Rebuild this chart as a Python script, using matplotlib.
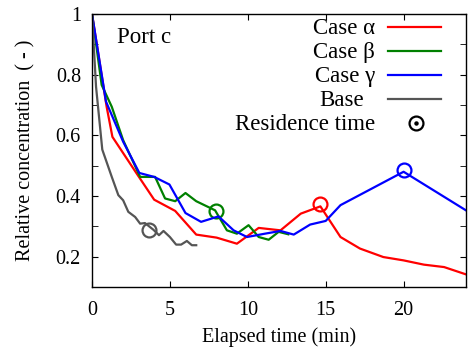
import matplotlib
matplotlib.use("Agg")
from matplotlib import pyplot as plt
from matplotlib.ticker import MultipleLocator, FuncFormatter

# Case alpha
t_alpha = [0, 0.94, 1.31, 2.87, 3.99, 5.34, 6.69, 8.0, 9.3, 10.7, 12.1, 13.4, 14.66,
           15.95, 17.2, 18.7, 20.0, 21.3, 22.6, 24.0]
c_alpha = [1.0, 0.694, 0.595, 0.474, 0.388, 0.351, 0.273, 0.263, 0.243, 0.295, 0.287,
           0.342, 0.366, 0.265, 0.227, 0.199, 0.188, 0.174, 0.166, 0.142]
# Case beta
t_beta = [0, 0.62, 1.27, 2.0, 3.09, 4.05, 4.69, 5.34, 6.0, 6.69, 7.9, 8.66, 9.3,
          10.05, 10.7, 11.34, 11.98, 12.6]
c_beta = [1.0, 0.766, 0.694, 0.584, 0.463, 0.463, 0.392, 0.383, 0.41, 0.383, 0.353,
          0.287, 0.276, 0.304, 0.265, 0.256, 0.282, 0.274]
# Case gamma
t_gamma = [0, 0.9, 2.0, 3.04, 3.99, 4.97, 6.0, 7.0, 8.12, 9.09, 9.95, 11.1, 12.1,
           12.95, 14.0, 15.0, 15.95, 20.0, 24.0]
c_gamma = [1.0, 0.711, 0.579, 0.476, 0.463, 0.438, 0.344, 0.315, 0.333, 0.287, 0.265,
           0.276, 0.285, 0.273, 0.306, 0.318, 0.37, 0.48, 0.353]
# Base
t_base = [0, 0.26, 0.66, 1.27, 1.69, 2.0, 2.33, 2.77, 3.09, 3.4, 3.94, 4.3, 4.59,
          5.0, 5.4, 5.72, 6.09, 6.41, 6.69]
c_base = [1.0, 0.76, 0.553, 0.463, 0.403, 0.386, 0.348, 0.331, 0.309, 0.311, 0.289,
          0.271, 0.285, 0.265, 0.24, 0.24, 0.252, 0.238, 0.238]

# residence time markers
res_t = [14.66, 7.97, 20.0, 3.69]
res_c = [0.373, 0.351, 0.487, 0.289]

labels = ["Case \u03b1", "Case \u03b2", "Case \u03b3", "Base"]
colors = ["#ff0000", "#008000", "#0000ff", "#555555"]

plt.rcParams['font.family'] = ['Liberation Serif', 'DejaVu Serif']

fig = plt.figure(figsize=(4.73, 3.48), dpi=100)
ax = fig.add_axes([0.1945, 0.175, 0.7905, 0.785])

series = [(t_alpha, c_alpha), (t_beta, c_beta), (t_gamma, c_gamma), (t_base, c_base)]
for (t, c), col, rt, rc in zip(series, colors, res_t, res_c):
    ax.plot(t, c, color=col, lw=1.6)
    ax.plot(rt, rc, marker='o', ms=10, mfc='none', mec=col, mew=1.6)

# gnuplot style key: right-justified labels, sample to the right
fs = 16.5
row_y = [0.952, 0.864, 0.777, 0.689, 0.601]
base_off = 0.027   # baseline sits a bit below the sample line
txt_x = [0.757, 0.757, 0.757, 0.727]
for lab, col, y, tx in zip(labels, colors, row_y, txt_x):
    ax.text(tx, y - base_off, lab, transform=ax.transAxes, ha='right', va='baseline', fontsize=fs)
    ax.plot([0.7914, 0.9332], [y, y], transform=ax.transAxes, color=col, lw=1.6)
ax.text(0.757, row_y[4] - base_off, "Residence time", transform=ax.transAxes,
        ha='right', va='baseline', fontsize=fs)
ax.plot([0.866], [row_y[4]], transform=ax.transAxes, marker='o', ms=10, mfc='none',
        mec='black', mew=1.6)
ax.plot([0.866], [row_y[4]], transform=ax.transAxes, marker='o', ms=2.2, color='black')

ax.text(0.068, 0.894, "Port c", transform=ax.transAxes, fontsize=fs, va='baseline')

ax.set_xlim(0, 24)
ax.set_ylim(0.1, 1.0)
ax.xaxis.set_major_locator(MultipleLocator(5))
ax.yaxis.set_major_locator(MultipleLocator(0.2))
ax.yaxis.set_minor_locator(MultipleLocator(0.1))
ax.yaxis.set_major_formatter(FuncFormatter(lambda v, p: "1" if abs(v - 1) < 1e-6 else "%.1f" % v))
ax.tick_params(which='both', direction='in', top=True, right=True, length=4, labelsize=14.5)
ax.tick_params(axis='x', pad=10)
ax.tick_params(axis='y', pad=8)
for s in ax.spines.values():
    s.set_linewidth(1.0)

ax.set_xlabel("Elapsed time (min)", fontsize=14.5)
ax.set_ylabel("Relative concentration  ( - )", fontsize=14.5)
ax.xaxis.set_label_coords(0.5, -0.146)
ax.yaxis.set_label_coords(-0.152, 0.502)

fig.savefig("out.png", dpi=100)
